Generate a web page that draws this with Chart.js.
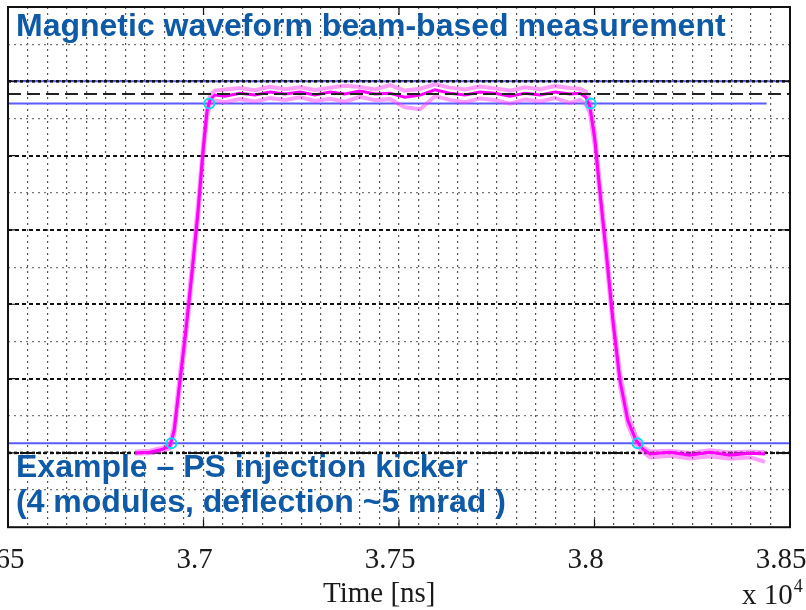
<!DOCTYPE html>
<html lang="en">
<head>
  <meta charset="UTF-8">
  <title>Magnetic waveform beam-based measurement</title>
  <style>
    body { margin: 0; background: #fff; }
    #wrap { position: relative; width: 806px; height: 610px; overflow: hidden; }
    canvas { position: absolute; left: 0; top: 0; }
    .note {
      position: absolute;
      left: 16px;
      font: bold 32px "Liberation Sans", Arial, sans-serif;
      color: #0f5aa6;
      white-space: nowrap;
    }
    #title { top: 9px; line-height: 32px; }
    #example { top: 449px; line-height: 35px; }
    .axis-text {
      position: absolute;
      font: 29px "Liberation Serif", "Times New Roman", serif;
      color: #1a1a1a;
      line-height: 29px;
      white-space: nowrap;
    }
    #xtitle { left: 323px; top: 578px; }
    #xexp { left: 742px; top: 580px; }
    #xexp span { font-size: 18px; position: relative; top: -12px; margin-left: 1px; }
  </style>
  <script src="https://cdn.jsdelivr.net/npm/chart.js"></script>
</head>
<body>
<div id="wrap">
  <canvas id="chart" width="806" height="610"></canvas>
  <div class="note" id="title">Magnetic waveform beam-based measurement</div>
  <div class="note" id="example">Example – PS injection kicker<br>(4 modules, deflection ~5 mrad )</div>
  <div class="axis-text" id="xtitle">Time [ns]</div>
  <div class="axis-text" id="xexp">x 10<span>4</span></div>
</div>

<script>
  // sample times of the measured waveform [ns]
  const times = [36825, 36863, 36896, 36914, 36925, 36940, 36955, 36971, 36986, 36999,
    37009, 37017, 37029, 37055, 37093, 37132, 37170, 37208, 37247, 37285,
    37324, 37362, 37400, 37439, 37477, 37515, 37554, 37592, 37630, 37669,
    37707, 37745, 37784, 37822, 37861, 37899, 37937, 37963, 37978, 37988,
    38001, 38016, 38032, 38047, 38065, 38085, 38106, 38124, 38142, 38193,
    38244, 38295, 38346, 38398, 38436];

  // normalised field, mean trace
  const fieldMean = [0.000, 0.002, 0.010, 0.018, 0.060, 0.196, 0.330, 0.490, 0.650, 0.815,
    0.920, 0.950, 0.963, 0.960, 0.968, 0.963, 0.971, 0.966, 0.971, 0.963,
    0.971, 0.966, 0.974, 0.966, 0.968, 0.957, 0.963, 0.977, 0.968, 0.963,
    0.971, 0.968, 0.960, 0.968, 0.963, 0.971, 0.966, 0.968, 0.957, 0.933,
    0.842, 0.680, 0.518, 0.357, 0.196, 0.088, 0.034, 0.010, -0.003, 0.002,
    -0.006, 0.002, -0.006, -0.001, -0.003];

  // individual shots (upper / lower envelope)
  const fieldShotA = [0.004, 0.006, 0.014, 0.024, 0.075, 0.215, 0.350, 0.510, 0.670, 0.830,
    0.930, 0.962, 0.975, 0.978, 0.982, 0.976, 0.985, 0.979, 0.984, 0.977,
    0.983, 0.988, 0.985, 0.978, 0.990, 0.975, 0.980, 0.992, 0.983, 0.978,
    0.986, 0.981, 0.975, 0.984, 0.979, 0.987, 0.982, 0.980, 0.972, 0.950,
    0.860, 0.700, 0.540, 0.375, 0.215, 0.105, 0.045, 0.016, 0.004, 0.006,
    0.000, 0.007, 0.001, 0.004, 0.002];

  const fieldShotB = [-0.002, -0.001, 0.006, 0.012, 0.048, 0.180, 0.312, 0.472, 0.632, 0.798,
    0.905, 0.938, 0.948, 0.944, 0.952, 0.946, 0.955, 0.950, 0.957, 0.947,
    0.953, 0.945, 0.958, 0.949, 0.952, 0.930, 0.925, 0.960, 0.950, 0.944,
    0.954, 0.950, 0.940, 0.951, 0.946, 0.955, 0.942, 0.950, 0.938, 0.915,
    0.825, 0.662, 0.500, 0.340, 0.180, 0.075, 0.024, 0.002, -0.012, -0.008,
    -0.015, -0.009, -0.016, -0.012, -0.024];

  // reference levels
  const flatTopLevel = 0.966;
  const nominalLevels = [0.0, 1.0];
  const levelValues = [1.0, 0.94, 0.026];
  const levelEnds = [38500, 38440, 38500];

  // threshold crossings
  const crossTimes = [36918, 37015, 37990, 38110];
  const crossValues = [0.026, 0.94, 0.94, 0.026];

  const xMin = 36500, xMax = 38500;
  const majorTimes = [37000, 37500, 38000];
  const majorLevels = [0, 0.2, 0.4, 0.6, 0.8, 1.0];

  const pts = (xs, ys) => xs.map((t, i) => ({ x: t, y: ys[i] }));
  const near = (a, b) => Math.abs(a - b) < 1e-6;
  const isMajorY = v => near(v * 5, Math.round(v * 5));

  // MATLAB-like box with inward ticks
  const frame = {
    id: 'frame',
    afterDatasetsDraw(chart) {
      const { ctx, chartArea: a, scales: { x, y } } = chart;
      ctx.save();
      ctx.strokeStyle = '#111';
      ctx.lineWidth = 1.2;
      ctx.beginPath();
      majorTimes.forEach(t => {
        const px = x.getPixelForValue(t);
        ctx.moveTo(px, a.bottom); ctx.lineTo(px, a.bottom - 8);
        ctx.moveTo(px, a.top); ctx.lineTo(px, a.top + 8);
      });
      majorLevels.forEach(v => {
        const py = y.getPixelForValue(v);
        ctx.moveTo(a.left, py); ctx.lineTo(a.left + 8, py);
        ctx.moveTo(a.right, py); ctx.lineTo(a.right - 8, py);
      });
      ctx.stroke();
      ctx.lineWidth = 2;
      ctx.strokeRect(a.left, a.top, a.right - a.left, a.bottom - a.top);
      ctx.restore();
    }
  };

  // first dataset is drawn on top
  const datasets = [
    {
      data: pts(crossTimes, crossValues),
      showLine: false,
      pointRadius: 5,
      pointBorderWidth: 2,
      pointBorderColor: '#10d8f0',
      pointBackgroundColor: 'rgba(0,0,0,0)'
    },
    {
      data: [{ x: xMin, y: flatTopLevel }, { x: xMax, y: flatTopLevel }],
      borderColor: '#222',
      borderWidth: 2,
      borderDash: [13, 6],
      pointRadius: 0
    },
    {
      data: pts(times, fieldMean),
      borderColor: '#ff00ff',
      borderWidth: 3,
      pointRadius: 0
    },
    {
      data: pts(times, fieldShotA),
      borderColor: 'rgba(255,60,255,0.5)',
      borderWidth: 4,
      pointRadius: 0
    },
    {
      data: pts(times, fieldShotB),
      borderColor: 'rgba(255,60,255,0.5)',
      borderWidth: 4,
      pointRadius: 0
    }
  ];

  nominalLevels.forEach(v => {
    datasets.push({
      data: [{ x: xMin, y: v }, { x: xMax, y: v }],
      borderColor: '#111',
      borderWidth: 2.6,
      borderDash: [3, 3],
      pointRadius: 0
    });
  });

  levelValues.forEach((v, i) => {
    datasets.push({
      data: [{ x: xMin, y: v }, { x: levelEnds[i], y: v }],
      borderColor: '#5a5aff',
      borderWidth: 2,
      pointRadius: 0
    });
  });

  new Chart(document.getElementById('chart'), {
    type: 'line',
    data: { datasets },
    plugins: [frame],
    options: {
      responsive: false,
      animation: false,
      layout: { padding: { top: 7, left: 8, right: 16, bottom: 16 } },
      plugins: { legend: { display: false }, tooltip: { enabled: false } },
      elements: { line: { tension: 0 } },
      scales: {
        x: {
          type: 'linear',
          min: xMin,
          max: xMax,
          border: { display: false, dash: [2, 4] },
          grid: {
            drawTicks: false,
            lineWidth: 1.2,
            color: c => (c.tick && (c.tick.value === xMin || c.tick.value === xMax)) ? 'rgba(0,0,0,0)' : '#555'
          },
          ticks: {
            stepSize: 50,
            maxTicksLimit: 100,
            autoSkip: false,
            maxRotation: 0,
            padding: 16,
            labelOffset: -9,
            color: '#1a1a1a',
            font: { family: 'Liberation Serif', size: 29 },
            callback: v => Math.round(v) % 500 === 0 ? String(v / 1e4) : ''
          },
          afterFit(s) { s.paddingLeft = 0; s.paddingRight = 0; }
        },
        y: {
          min: -0.2,
          max: 1.2,
          border: {
            display: false,
            dash: c => (c.tick && isMajorY(c.tick.value)) ? [4, 3] : [2, 4]
          },
          grid: {
            drawTicks: false,
            lineWidth: c => (c.tick && isMajorY(c.tick.value)) ? 2 : 1.2,
            color: c => {
              if (!c.tick) return '#777';
              const v = c.tick.value;
              if (near(v, -0.2) || near(v, 1.2)) return 'rgba(0,0,0,0)';
              return isMajorY(v) ? '#111' : '#777';
            }
          },
          ticks: { display: false, stepSize: 0.1 }
        }
      }
    }
  });
</script>
</body>
</html>
